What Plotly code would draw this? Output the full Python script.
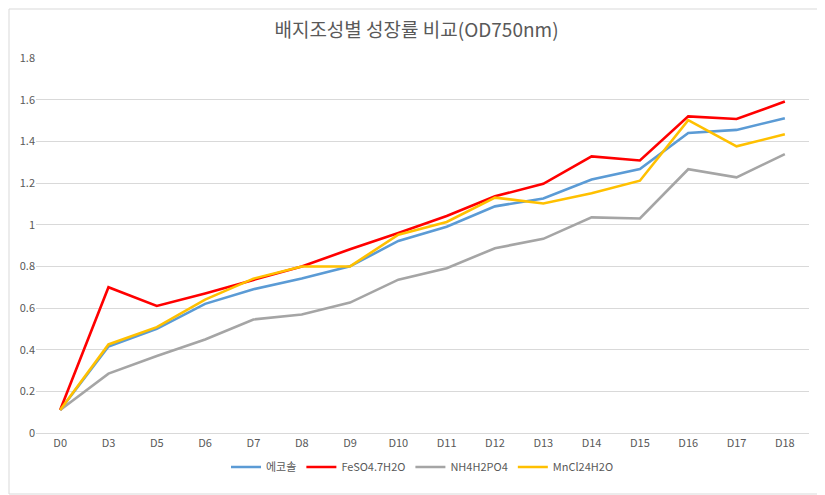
import plotly.graph_objects as go

days = ["D0", "D3", "D5", "D6", "D7", "D8", "D9", "D10", "D11", "D12", "D13", "D14", "D15", "D16", "D17", "D18"]
ecosol = [0.11, 0.415, 0.50, 0.62, 0.69, 0.742, 0.80, 0.922, 0.99, 1.088, 1.126, 1.217, 1.267, 1.44, 1.455, 1.511]
feso4 = [0.11, 0.70, 0.61, 0.67, 0.735, 0.799, 0.882, 0.96, 1.042, 1.136, 1.196, 1.328, 1.308, 1.52, 1.507, 1.591]
nh4h2po4 = [0.11, 0.285, 0.37, 0.449, 0.545, 0.569, 0.626, 0.736, 0.791, 0.887, 0.932, 1.035, 1.03, 1.266, 1.227, 1.339]
mncl2 = [0.11, 0.425, 0.508, 0.64, 0.741, 0.799, 0.80, 0.952, 1.013, 1.13, 1.102, 1.151, 1.211, 1.502, 1.376, 1.434]

names = ["에코솔", "FeSO4.7H2O", "NH4H2PO4", "MnCl24H2O"]
colors = ["#5B9BD5", "#FF0000", "#A5A5A5", "#FFC000"]
series = [ecosol, feso4, nh4h2po4, mncl2]

fig = go.Figure()
for n, c, s in zip(names, colors, series):
    fig.add_trace(go.Scatter(x=days, y=s, name=n, mode="lines",
                             line=dict(color=c, width=2.6)))

# page body has an 8px default margin; compensate so page coords match
OFF = 8
W, H = 825 - OFF, 495 - OFF
ml, mr, mt, mb = 36 - OFF, 16, 58 - OFF, 62
pw, ph = W - ml - mr, H - mt - mb

fig.update_layout(
    width=W, height=H,
    margin=dict(l=ml, r=mr, t=mt, b=mb),
    paper_bgcolor="white", plot_bgcolor="white",
    font=dict(family="Noto Sans CJK KR, Noto Sans, sans-serif", color="#595959", size=11),
    title=dict(text="배지조성별 성장률 비교(OD750nm)", x=0.5, xanchor="center",
               y=1 - (30 - OFF) / H, yanchor="middle",
               font=dict(size=19, color="#595959")),
    showlegend=True,
    legend=dict(orientation="h", x=0.5, xanchor="center", y=-(467 - 433) / ph, yanchor="middle",
                font=dict(size=11, color="#595959"), itemwidth=30, tracegroupgap=0),
    xaxis=dict(type="category", range=[-0.5, len(days) - 0.5], showgrid=False,
               showline=True, linecolor="#D9D9D9", linewidth=1, ticks="",
               tickfont=dict(size=11, color="#595959"), fixedrange=True),
    yaxis=dict(range=[0, 1.8001], dtick=0.2, tick0=0, showgrid=True, gridcolor="#D9D9D9",
               gridwidth=1, zeroline=False, showline=False, ticks="",
               tickfont=dict(size=11, color="#595959"), fixedrange=True),
    shapes=[dict(type="rect", xref="paper", yref="paper",
                 x0=-(ml - 1) / pw, x1=1 + (mr - 1) / pw,
                 y0=-(mb - 1) / ph, y1=1 + (mt - 1) / ph,
                 line=dict(color="#D9D9D9", width=1), fillcolor="rgba(0,0,0,0)", layer="below")],
)

fig.write_html("out.html")
